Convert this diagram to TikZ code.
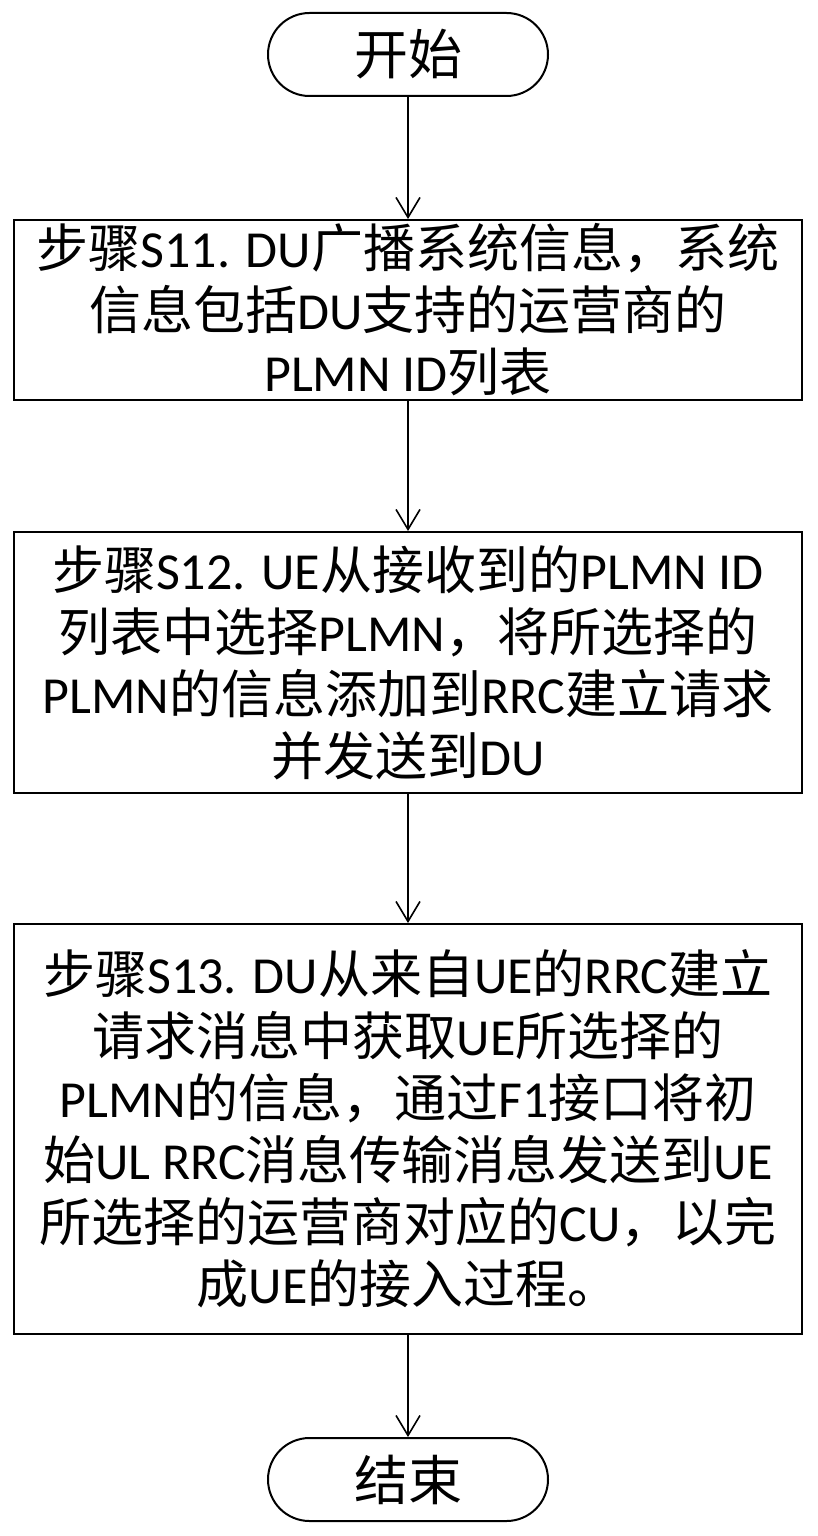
\documentclass[tikz,border=0pt]{standalone}
\usepackage{fontspec}
\setmainfont{Noto Sans CJK SC}
\newfontfamily\lat{Carlito}
\usetikzlibrary{arrows.meta}
\usetikzlibrary{positioning}
\newcommand{\en}[1]{{\lat #1}}
\tikzset{flow/.style = {-{Straight Barb[length=10pt, width=12pt]}, line width=0.8pt}}
\tikzset{term/.style = {draw, line width=1pt, rounded corners=20.75pt,
                        minimum width=140pt, minimum height=41.5pt, inner sep=0,
                        font=\fontsize{27}{32}\selectfont}}
\tikzset{stepbox/.style = {draw, line width=1pt, minimum width=394pt, inner sep=0,
                           align=center, font=\fontsize{26}{31}\selectfont}}
\begin{document}
\begin{tikzpicture}[x=0.5pt, y=-0.5pt]
      \useasboundingbox [fill=white] (0,0) rectangle (818,1536);
      \node [term] (start) at (408,54.5) {开始};
      \node [stepbox, minimum height=90pt] (s11) at (408,310)
        {步骤\en{S11. DU}广播系统信息，系统\\
         信息包括\en{DU}支持的运营商的\\
         \en{PLMN ID}列表};
      \node [stepbox, minimum height=130.5pt] (s12) at (408,662.5)
        {步骤\en{S12. UE}从接收到的\en{PLMN ID}\\
         列表中选择\en{PLMN}，将所选择的\\
         \en{PLMN}的信息添加到\en{RRC}建立请求\\
         并发送到\en{DU}};
      \node [stepbox, minimum height=205pt] (s13) at (408,1129)
        {步骤\en{S13. DU}从来自\en{UE}的\en{RRC}建立\\
         请求消息中获取\en{UE}所选择的\\
         \en{PLMN}的信息，通过\en{F1}接口将初\\
         始\en{UL RRC}消息传输消息发送到\en{UE}\\
         所选择的运营商对应的\en{CU}，以完\\
         成\en{UE}的接入过程。};
      \node [term] (stop) at (408,1479.5) {结束};
      \draw [flow] (start) -- (s11);
      \draw [flow] (s11) -- (s12);
      \draw [flow] (s12) -- (s13);
      \draw [flow] (s13) -- (stop);
\end{tikzpicture}
\end{document}
